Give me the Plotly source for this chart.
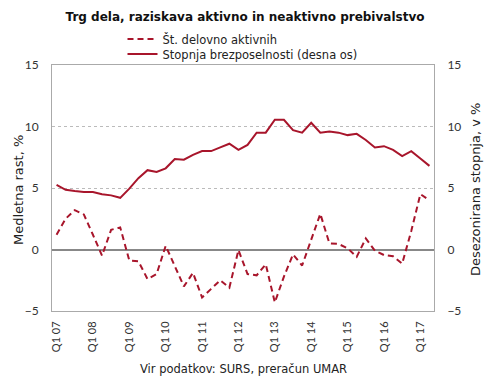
import plotly.graph_objects as go

quarters = [f"Q{q} {y:02d}" for y in range(7, 18) for q in range(1, 5)][:42]

employment = [1.2, 2.5, 3.2, 2.85, 1.2, -0.5, 1.6, 1.8,
              -0.9, -0.95, -2.4, -2.0, 0.3, -1.4, -3.0, -1.9,
              -3.9, -3.2, -2.5, -3.1, -0.05, -2.0, -2.1, -1.2,
              -4.3, -2.2, -0.4, -1.3, 0.8, 2.9, 0.5, 0.45,
              0.1, -0.6, 0.9, -0.1, -0.45, -0.55, -1.15, 1.5,
              4.5, 4.0]

unemployment = [5.25, 4.85, 4.75, 4.68, 4.68, 4.5, 4.4, 4.2,
                4.95, 5.8, 6.45, 6.3, 6.6, 7.35, 7.3, 7.7,
                8.0, 8.0, 8.3, 8.6, 8.1, 8.5, 9.5, 9.5,
                10.55, 10.55, 9.7, 9.5, 10.3, 9.5, 9.6, 9.5,
                9.3, 9.4, 8.9, 8.3, 8.4, 8.1, 7.6, 8.0,
                7.4, 6.8]

tick_vals = [q for q in quarters if q.startswith("Q1")]
tick_text = tick_vals

red = "#A8152B"
font_family = "'DejaVu Sans', Verdana, sans-serif"
tick_family = "Lato, sans-serif"

fig = go.Figure()
fig.add_trace(go.Scatter(x=quarters, y=employment, mode="lines",
                         name="Št. delovno aktivnih", legend="legend",
                         line=dict(color=red, width=2, dash="6px,4px")))
fig.add_trace(go.Scatter(x=quarters, y=unemployment, mode="lines",
                         name="Stopnja brezposelnosti (desna os)", legend="legend2",
                         line=dict(color=red, width=2), yaxis="y2"))

legend_common = dict(xref="container", yref="container", xanchor="left",
                     yanchor="middle", bgcolor="rgba(0,0,0,0)",
                     font=dict(size=11.5, color="#222"), itemwidth=30)

fig.update_layout(
    width=490, height=386,
    margin=dict(l=52, r=56, t=65, b=75, autoexpand=False),
    paper_bgcolor="white", plot_bgcolor="white",
    font=dict(family=font_family, size=12, color="#333"),
    title=dict(text="<b>Trg dela, raziskava aktivno in neaktivno prebivalstvo</b>",
               x=0.5, xanchor="center", y=1 - 17 / 386, yanchor="middle",
               font=dict(size=12, color="#111")),
    showlegend=True,
    legend=dict(x=0.25, y=1 - 39 / 386, **legend_common),
    legend2=dict(x=0.25, y=1 - 54 / 386, **legend_common),
    xaxis=dict(type="category", categoryorder="array", categoryarray=quarters,
               range=[-0.5, 41.5], tickmode="array", tickvals=tick_vals,
               ticktext=tick_text, tickangle=-90, showgrid=False,
               tickfont=dict(family=tick_family, size=11, color="#333"),
               showline=True, linecolor="#aaa", linewidth=1, mirror=True,
               ticks="outside", ticklen=5, tickcolor="rgba(0,0,0,0)",
               zeroline=False),
    yaxis=dict(range=[-5, 15], tickvals=[-5, 0, 5, 10, 15],
               showgrid=True, gridcolor="#bbb", griddash="dot", gridwidth=1,
               zeroline=True, zerolinecolor="#888", zerolinewidth=1.5,
               showline=True, linecolor="#aaa", linewidth=1, mirror=True,
               ticks="outside", ticklen=10, tickcolor="rgba(0,0,0,0)",
               tickfont=dict(family=tick_family, size=12, color="#333")),
    yaxis2=dict(range=[-5, 15], tickvals=[-5, 0, 5, 10, 15], overlaying="y",
                side="right", showgrid=False, zeroline=False,
                ticks="outside", ticklen=10, tickcolor="rgba(0,0,0,0)",
                tickfont=dict(family=tick_family, size=12, color="#333")),
    annotations=[
        dict(text="Vir podatkov: SURS, preračun UMAR",
             xref="paper", yref="paper", x=0.5, y=-0.235,
             xanchor="center", yanchor="middle", showarrow=False,
             font=dict(size=11.5, color="#222")),
        dict(text="Medletna rast, %", xref="paper", yref="paper",
             x=(18 - 52) / 382, y=(311 - 190) / 246, textangle=-90,
             xanchor="center", yanchor="middle", showarrow=False,
             font=dict(size=13, color="#222")),
        dict(text="Desezonirana stopnja, v %", xref="paper", yref="paper",
             x=(475 - 52) / 382, y=(311 - 190) / 246, textangle=-90,
             xanchor="center", yanchor="middle", showarrow=False,
             font=dict(size=13, color="#222")),
    ],
)

fig.write_html("out.html", config={"displayModeBar": False},
               post_script="document.body.style.margin='0';document.body.style.padding='0';")
